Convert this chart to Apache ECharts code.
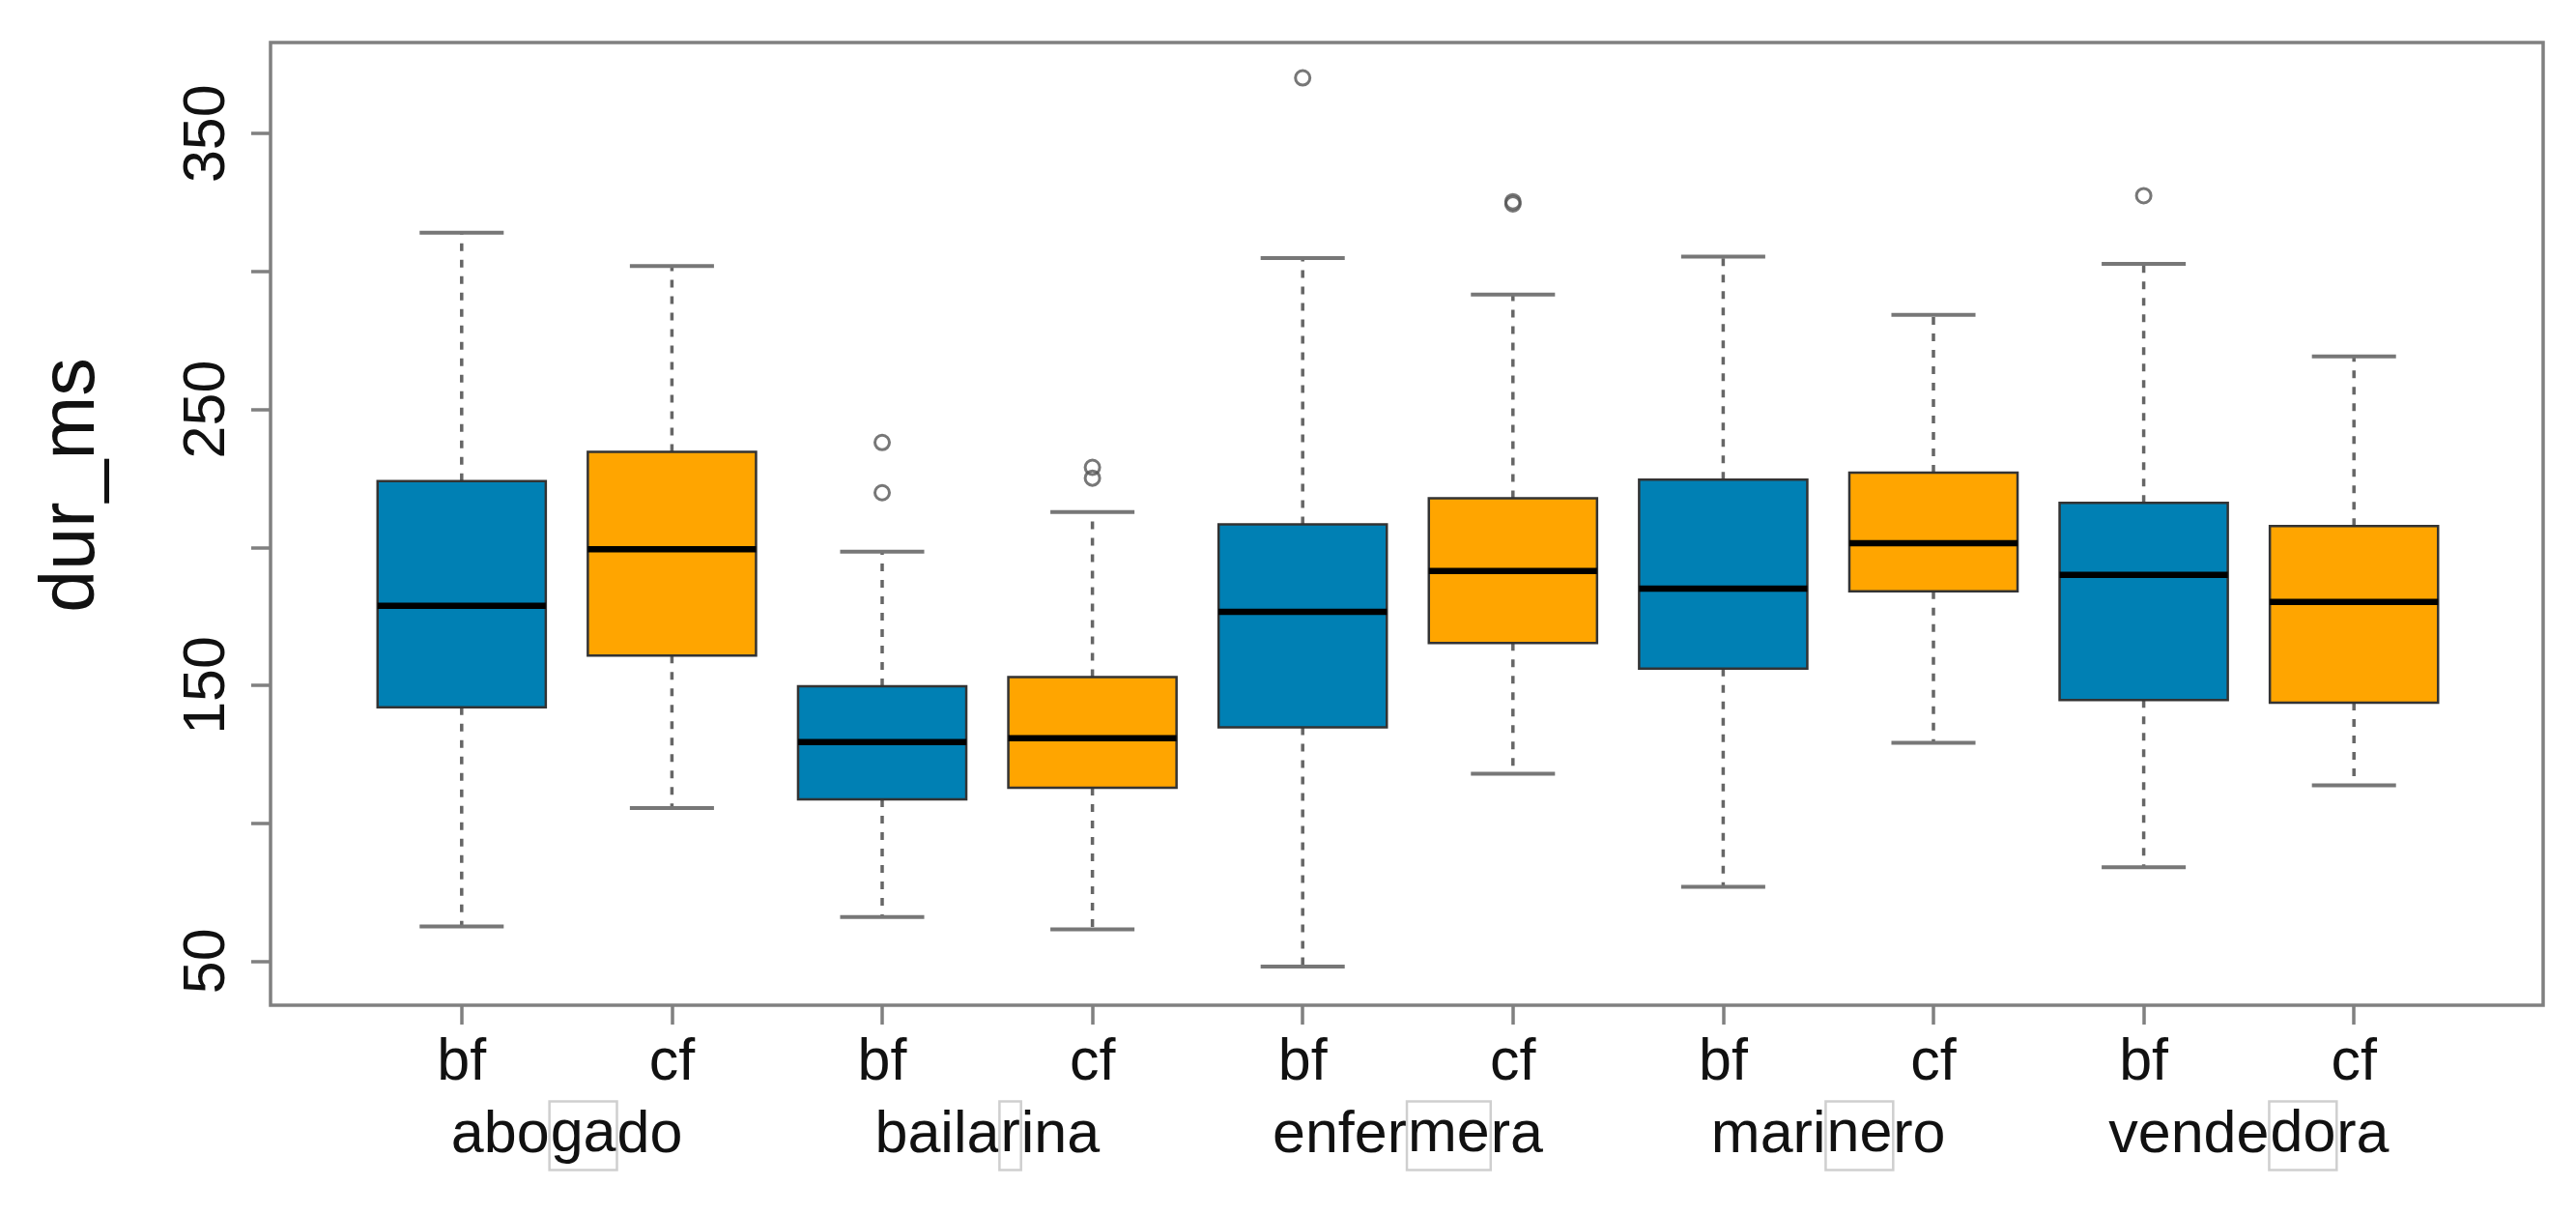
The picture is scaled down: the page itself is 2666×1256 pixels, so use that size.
<!DOCTYPE html>
<html>
<head>
<meta charset="utf-8">
<script src="https://cdn.jsdelivr.net/npm/echarts@6/dist/echarts.min.js"></script>
<style>
  html,body{margin:0;padding:0;background:#fff;}
  #chart{width:2666px;height:1256px;}
</style>
</head>
<body>
<div id="chart"></div>
<script>
// DATA
const categories = ['bf','cf','bf','cf','bf','cf','bf','cf','bf','cf'];
const groups = ['abogado','bailarina','enfermera','marinero','vendedora'];
const stressed = ['ga','r','me','ne','do'];
const lowerWhisker = [62.6,105.5,66.0,61.5,48.0,117.9,76.9,129.1,84.0,113.7];
const q1 = [142.0,160.8,108.6,112.8,134.7,165.3,156.0,184.1,144.6,143.7];
const median = [178.8,199.3,129.4,130.8,176.6,191.4,185.0,201.5,190.0,180.2];
const q3 = [224.0,234.6,149.6,153.0,208.3,217.8,224.5,227.1,216.1,207.7];
const upperWhisker = [314.1,302.0,198.4,212.8,304.9,291.6,305.4,284.3,302.8,269.2];
const outliers = [[2,238.0],[2,219.8],[3,229.0],[3,225.1],[4,370.2],[5,324.5],[5,325.3],[8,327.5]];
const yTicks = [50,100,150,200,250,300,350];
const yLabels = [50,150,250,350];
const fillColors = ['#0080B4','#FFA500'];

const FONT = '"Liberation Sans", Arial, sans-serif';
const yMin = 34, yMax = 383;

const boxData = categories.map((c,i)=>[i,lowerWhisker[i],q1[i],median[i],q3[i],upperWhisker[i]]);

function renderBox(params, api){
  const i = api.value(0);
  const w = api.size([1,0])[0]*0.8;
  const cap = w/2;
  const pLo = api.coord([i,api.value(1)]);
  const pQ1 = api.coord([i,api.value(2)]);
  const pMed = api.coord([i,api.value(3)]);
  const pQ3 = api.coord([i,api.value(4)]);
  const pHi = api.coord([i,api.value(5)]);
  const x = pMed[0];
  const dash = {stroke:'#666',lineWidth:3.5,lineDash:[8,9]};
  const capStyle = {stroke:'#777',lineWidth:4};
  return {
    type:'group',
    children:[
      {type:'line',shape:{x1:x,y1:pQ3[1],x2:x,y2:pHi[1]},style:dash},
      {type:'line',shape:{x1:x,y1:pQ1[1],x2:x,y2:pLo[1]},style:dash},
      {type:'line',shape:{x1:x-cap/2,y1:pHi[1],x2:x+cap/2,y2:pHi[1]},style:capStyle},
      {type:'line',shape:{x1:x-cap/2,y1:pLo[1],x2:x+cap/2,y2:pLo[1]},style:capStyle},
      {type:'rect',shape:{x:x-w/2,y:pQ3[1],width:w,height:pQ1[1]-pQ3[1]},
        style:{fill:fillColors[i%2],stroke:'#333',lineWidth:2.5}},
      {type:'line',shape:{x1:x-w/2,y1:pMed[1],x2:x+w/2,y2:pMed[1]},style:{stroke:'#000',lineWidth:6.5}}
    ]
  };
}

const chart = echarts.init(document.getElementById('chart'));
chart.setOption({
  animation:false,
  backgroundColor:'#fff',
  grid:[
    {left:280,right:34,top:44,bottom:216,show:true,borderColor:'#808080',borderWidth:3.5,backgroundColor:'transparent'},
    {left:369,right:121,top:44,bottom:216}
  ],
  xAxis:[
    {gridIndex:0,type:'value',min:0,max:1,show:false},
    {gridIndex:1,type:'category',data:categories,boundaryGap:true,position:'bottom',
      axisLine:{show:false},
      axisTick:{show:true,alignWithLabel:true,inside:false,length:20,lineStyle:{color:'#808080',width:3.5}},
      axisLabel:{interval:0,margin:30,fontSize:61,color:'#111',fontFamily:FONT}},
    {gridIndex:1,type:'category',data:groups,boundaryGap:true,position:'bottom',
      axisLine:{show:false},axisTick:{show:false},
      axisLabel:{interval:0,margin:100,
        formatter:function(name){
          const k = groups.indexOf(name);
          const s = stressed[k];
          const j = name.indexOf(s);
          return '{n|'+name.slice(0,j)+'}{b|'+s+'}{n|'+name.slice(j+s.length)+'}';
        },
        rich:{
          n:{fontSize:61,color:'#111',fontFamily:FONT,lineHeight:70},
          b:{fontSize:61,color:'#111',fontFamily:FONT,lineHeight:70,borderColor:'#cfcfcf',borderWidth:2.5,padding:[4,1,6,1]}
        }}}
  ],
  yAxis:[
    {gridIndex:0,type:'value',min:yMin,max:yMax,
      name:'dur_ms',nameLocation:'middle',nameGap:165,nameRotate:90,
      nameTextStyle:{fontSize:79,color:'#111',fontFamily:FONT,padding:[0,0,0,80]},
      axisLine:{show:false},splitLine:{show:false},
      axisTick:{show:true,length:20,customValues:yTicks,lineStyle:{color:'#808080',width:3.5}},
      axisLabel:{rotate:90,margin:34,fontSize:61,color:'#111',fontFamily:FONT,customValues:yLabels}},
    {gridIndex:1,type:'value',min:yMin,max:yMax,show:false}
  ],
  series:[
    {type:'custom',xAxisIndex:1,yAxisIndex:1,renderItem:renderBox,data:boxData,
      encode:{x:0,y:[1,2,3,4,5]},clip:false,silent:true},
    {type:'scatter',xAxisIndex:1,yAxisIndex:1,data:outliers,symbol:'circle',symbolSize:15,
      itemStyle:{color:'rgba(255,255,255,0)',borderColor:'#555',borderWidth:3},silent:true}
  ]
});
</script>
</body>
</html>
